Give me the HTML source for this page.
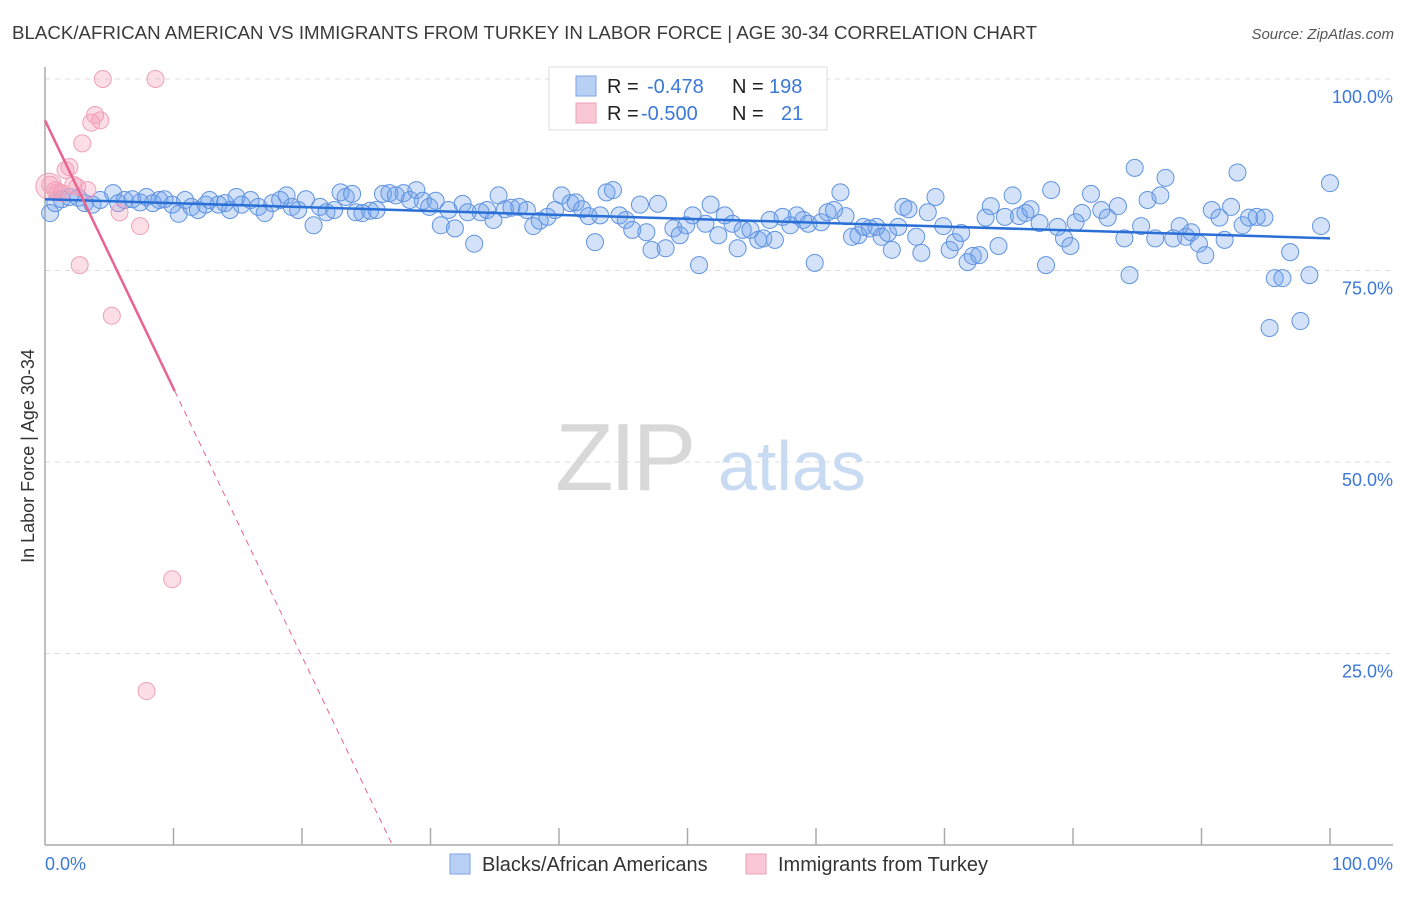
<!DOCTYPE html>
<html><head><meta charset="utf-8"><style>
body{margin:0;background:#fff;font-family:"Liberation Sans",sans-serif;}
svg text{font-family:"Liberation Sans",sans-serif;}
</style></head><body>
<svg id="chart" width="1406" height="892" xmlns="http://www.w3.org/2000/svg">
<text x="12" y="39" font-size="18" fill="#3a3a3a" textLength="1025" lengthAdjust="spacingAndGlyphs">BLACK/AFRICAN AMERICAN VS IMMIGRANTS FROM TURKEY IN LABOR FORCE | AGE 30-34 CORRELATION CHART</text>
<text x="1394" y="39" font-size="15" fill="#555" text-anchor="end" font-style="italic">Source: ZipAtlas.com</text>
<g id="grid"></g>
<text x="555" y="490" font-size="96" fill="#d8d8d8" font-family="Liberation Serif" letter-spacing="-4">ZIP</text>
<text x="718" y="490" font-size="70" fill="#c9dbf2">atlas</text>
<line x1="45" y1="67" x2="45" y2="845" stroke="#aaa" stroke-width="1.5"/>
<line x1="45" y1="845" x2="1393" y2="845" stroke="#aaa" stroke-width="1.5"/>
<g id="ticks"></g>
<g id="blue"></g>
<g id="pink"></g>
<g id="trend"></g>
<text transform="translate(34,456) rotate(-90)" font-size="18" fill="#333" text-anchor="middle">In Labor Force | Age 30-34</text>
<text x="45" y="870" font-size="18" fill="#3b78d8">0.0%</text>
<text x="1393" y="870" font-size="18" fill="#3b78d8" text-anchor="end">100.0%</text>
<g>
<rect x="549" y="67" width="278" height="63" fill="#fff" stroke="#ddd"/>
<rect x="576" y="76" width="20" height="20" fill="#b8d0f4" stroke="#7ea6e6"/>
<rect x="576" y="103" width="20" height="20" fill="#f9c7d6" stroke="#f0a0b8"/>
<text x="607" y="93" font-size="20" fill="#222">R = </text><text x="647" y="93" font-size="20" fill="#3b78d8">-0.478</text>
<text x="732" y="93" font-size="20" fill="#222">N = </text><text x="769" y="93" font-size="20" fill="#3b78d8">198</text>
<text x="607" y="120" font-size="20" fill="#222">R = </text><text x="641" y="120" font-size="20" fill="#3b78d8">-0.500</text>
<text x="732" y="120" font-size="20" fill="#222">N = </text><text x="781" y="120" font-size="20" fill="#3b78d8">21</text>
</g>
<g>
<rect x="450" y="854" width="20" height="20" fill="#b8d0f4" stroke="#7ea6e6"/>
<text x="482" y="871" font-size="20" fill="#333">Blacks/African Americans</text>
<rect x="746" y="854" width="20" height="20" fill="#f9c7d6" stroke="#f0a0b8"/>
<text x="778" y="871" font-size="20" fill="#333">Immigrants from Turkey</text>
</g>
</svg>
<script>
const yTicks=[100,75,50,25];
const yTickLabels=["100.0%","75.0%","50.0%","25.0%"];
const xTicks=[10,20,30,40,50,60,70,80,90,100];
const blueX=[0.4,0.8,1.3,1.9,2.6,3.1,3.7,4.3,5.3,5.7,6.2,6.8,7.4,7.9,8.4,8.9,9.3,9.9,10.4,10.9,11.4,11.9,12.5,12.8,13.5,14.0,14.4,14.9,15.3,16.0,16.6,17.1,17.7,18.3,18.8,19.2,19.7,20.3,20.9,21.4,21.9,22.5,23.0,23.4,23.9,24.2,24.7,25.3,25.8,26.3,26.8,27.3,27.9,28.4,28.9,29.4,29.9,30.4,30.8,31.4,31.9,32.5,32.9,33.4,33.9,34.4,34.9,35.3,35.8,36.3,36.9,37.5,38.0,38.5,39.1,39.7,40.2,40.9,41.3,41.8,42.3,42.8,43.2,43.7,44.2,44.7,45.2,45.7,46.3,46.8,47.2,47.7,48.3,48.9,49.4,49.9,50.4,50.9,51.4,51.8,52.4,52.9,53.5,53.9,54.3,54.9,55.5,55.9,56.4,56.8,57.4,58.0,58.5,59.0,59.4,59.9,60.4,60.9,61.4,61.9,62.3,62.8,63.3,63.7,64.2,64.7,65.1,65.6,65.9,66.4,66.8,67.2,67.8,68.2,68.7,69.3,69.9,70.4,70.8,71.3,71.8,72.2,72.7,73.2,73.6,74.2,74.7,75.3,75.8,76.3,76.7,77.4,77.9,78.3,78.8,79.3,79.8,80.2,80.7,81.4,82.2,82.7,83.5,84.0,84.4,84.8,85.3,85.8,86.4,86.8,87.2,87.8,88.3,88.8,89.2,89.8,90.3,90.8,91.4,91.8,92.3,92.8,93.2,93.7,94.3,94.9,95.3,95.7,96.3,96.9,97.7,98.4,99.3,100];
const blueY=[82.5,83.8,84.3,84.6,84.5,83.8,83.6,84.2,85.1,83.8,84.2,84.3,83.9,84.6,83.8,84.2,84.3,83.6,82.4,84.2,83.3,82.9,83.6,84.2,83.6,83.8,82.9,84.6,83.6,84.2,83.3,82.5,83.8,84.2,84.8,83.3,82.9,84.3,80.9,83.3,82.6,82.9,85.2,84.6,85.0,82.6,82.5,82.8,82.9,85.0,85.1,84.8,85.1,84.2,85.5,84.1,83.3,84.1,80.9,82.9,80.5,83.7,82.6,78.5,82.6,82.9,81.6,84.8,83.0,83.2,83.3,82.9,80.8,81.5,82.0,82.9,84.8,83.8,83.9,83.0,82.1,78.7,82.2,85.2,85.5,82.2,81.6,80.3,83.6,80.0,77.7,83.7,77.9,80.5,79.6,80.9,82.2,75.7,81.1,83.6,79.6,82.2,81.1,77.9,80.3,80.3,79.0,79.2,81.6,79.0,82.0,80.9,82.2,81.6,81.1,76.0,81.3,82.6,82.9,85.2,82.1,79.4,79.6,80.7,80.5,80.7,79.4,79.9,77.7,80.7,83.3,83.0,79.4,77.3,82.6,84.6,80.8,77.7,78.7,79.9,76.1,76.9,77.0,81.9,83.4,78.2,82.0,84.8,82.1,82.5,83.0,81.2,75.7,85.5,80.7,79.2,78.2,81.3,82.5,85.0,82.9,81.9,83.4,79.2,74.4,88.4,80.8,84.2,79.2,84.8,87.1,79.2,80.8,79.4,80.0,78.5,77.0,82.9,81.9,79.0,83.3,87.8,80.9,81.9,82.0,81.9,67.5,74.0,74.0,77.4,68.4,74.4,80.8,86.4];
const pinkX=[0.4,0.8,1.0,1.3,1.6,1.9,2.2,2.5,2.9,3.3,3.6,3.9,4.3,4.5,5.2,5.8,7.4,8.6,9.9,7.9,2.7];
const pinkY=[86.2,85.5,85.2,85.1,88.1,88.5,86.2,85.9,91.6,85.5,94.3,95.3,94.6,100,69.1,82.6,80.8,100,34.7,20.1,75.7];
const blueTrend=[84.3,79.2];
const pinkTrend=[94.6,-3.5];
const NS="http://www.w3.org/2000/svg";
const X0=45,X1=1330,Y0=845,Y1=79;
const sx=v=>X0+(X1-X0)*v/100;
const sy=v=>Y0-(Y0-Y1)*v/100;
function mk(t,a,p){const e=document.createElementNS(NS,t);for(const k in a)e.setAttribute(k,a[k]);p.appendChild(e);return e;}
const grid=document.getElementById('grid');
yTicks.forEach((v,i)=>{
 const l=mk('line',{x1:45,x2:1393,y1:sy(v),y2:sy(v),stroke:'#ddd','stroke-dasharray':'5,5'},grid);
 
 
 const t=mk('text',{x:1393,y:sy(v)+24,'font-size':18,fill:'#3b78d8','text-anchor':'end'},grid);
 t.textContent=yTickLabels[i];
 
 
});
const ticks=document.getElementById('ticks');
xTicks.forEach(v=>{
 const l=mk('line',{x1:sx(v),x2:sx(v),y1:828,y2:845,stroke:'#aaa','stroke-width':1.5},ticks);
 
 
});
const bg=document.getElementById('blue');
blueX.forEach((x,i)=>{
 const c=mk('circle',{cx:sx(x),cy:sy(blueY[i]),r:8.5,fill:'rgba(110,160,235,0.3)',stroke:'#5f93e0','stroke-width':1},bg);
 
 
});
const pg=document.getElementById('pink');
mk('circle',{cx:sx(0.3),cy:sy(86),r:13,fill:'rgba(245,160,185,0.35)',stroke:'#f0a0b8'},pg);
pinkX.forEach((x,i)=>{
 const c=mk('circle',{cx:sx(x),cy:sy(pinkY[i]),r:8.5,fill:'rgba(245,160,185,0.35)',stroke:'#f0a0b8','stroke-width':1},pg);
 
 
});
const tg=document.getElementById('trend');
const bl=mk('line',{x1:sx(0),y1:sy(blueTrend[0]),x2:sx(100),y2:sy(blueTrend[1]),stroke:'#2a6fd6','stroke-width':2.5},tg);


const xs=10.1,xz=-pinkTrend[0]/pinkTrend[1];
const pl=mk('line',{x1:sx(0),y1:sy(pinkTrend[0]),x2:sx(xs),y2:sy(pinkTrend[0]+pinkTrend[1]*xs),stroke:'#e8638e','stroke-width':2.5},tg);


const pd=mk('line',{x1:sx(xs),y1:sy(pinkTrend[0]+pinkTrend[1]*xs),x2:sx(xz),y2:sy(0),stroke:'#e8638e','stroke-width':1,'stroke-dasharray':'6,5'},tg);


</script>
</body></html>
